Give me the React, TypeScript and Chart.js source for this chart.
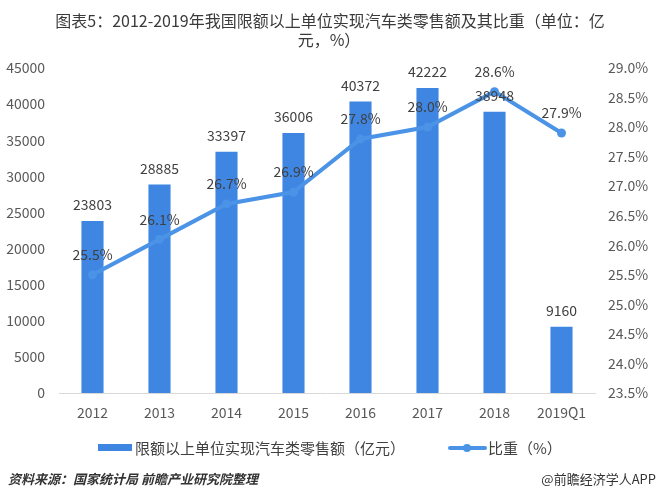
import React, { useEffect, useRef } from "react";
import { Chart, registerables } from "chart.js";

Chart.register(...registerables);

const categories = ["2012", "2013", "2014", "2015", "2016", "2017", "2018", "2019Q1"];
const salesValues = [23803, 28885, 33397, 36006, 40372, 42222, 38948, 9160];
const shareValues = [25.5, 26.1, 26.7, 26.9, 27.8, 28.0, 28.6, 27.9];
const leftAxis = { min: 0, max: 45000, step: 5000 };
const rightAxis = { min: 23.5, max: 29.0, step: 0.5 };
const titleLines = ["图表5：2012-2019年我国限额以上单位实现汽车类零售额及其比重（单位：亿", "元，%）"];
const barLegend = "限额以上单位实现汽车类零售额（亿元）";
const lineLegend = "比重（%）";
const sourceText = "资料来源：国家统计局 前瞻产业研究院整理";
const brandText = "@前瞻经济学人APP";

const FONT = '"Noto Sans CJK SC", "Noto Sans", sans-serif';
const BAR_COLOR = "#3f86e2";
const LINE_COLOR = "#4a93e6";
const TEXT = "#404040";
const TICK = "#595959";

const decorPlugin = {
  id: "decor",
  afterDatasetsDraw(chart: any) {
    const ctx = chart.ctx;
    ctx.save();
    const barMeta = chart.getDatasetMeta(0);
    ctx.font = `14px ${FONT}`;
    ctx.fillStyle = TEXT;
    ctx.textAlign = "center";
    ctx.textBaseline = "middle";
    barMeta.data.forEach((el: any, i: number) => {
      ctx.fillText(String(salesValues[i]), el.x, el.y - 16);
    });
    const lineMeta = chart.getDatasetMeta(1);
    lineMeta.data.forEach((el: any, i: number) => {
      ctx.fillText(shareValues[i].toFixed(1) + "%", el.x, el.y - 20);
    });
    ctx.restore();
  },
  afterDraw(chart: any) {
    const ctx = chart.ctx;
    const W = chart.width;
    ctx.save();
    ctx.font = `16px ${FONT}`;
    ctx.fillStyle = "#3a3a3a";
    ctx.textAlign = "center";
    ctx.textBaseline = "middle";
    ctx.fillText(titleLines[0], W / 2 + 1, 21);
    ctx.fillText(titleLines[1], W / 2, 40);

    const ly = 448;
    ctx.fillStyle = BAR_COLOR;
    ctx.fillRect(98, ly - 4, 34, 7);
    ctx.font = `15px ${FONT}`;
    ctx.fillStyle = TEXT;
    ctx.textAlign = "left";
    ctx.fillText(barLegend, 135, ly);
    ctx.strokeStyle = LINE_COLOR;
    ctx.lineWidth = 4;
    ctx.lineCap = "round";
    ctx.beginPath();
    ctx.moveTo(450, ly);
    ctx.lineTo(485, ly);
    ctx.stroke();
    ctx.fillStyle = LINE_COLOR;
    ctx.beginPath();
    ctx.arc(467, ly, 4, 0, Math.PI * 2);
    ctx.fill();
    ctx.fillStyle = TEXT;
    ctx.fillText(lineLegend, 488, ly);

    ctx.font = `italic bold 13px ${FONT}`;
    ctx.fillStyle = "#333333";
    ctx.textAlign = "left";
    ctx.fillText(sourceText, 8, 479);
    ctx.font = `13px ${FONT}`;
    ctx.textAlign = "right";
    ctx.fillText(brandText, 656, 479);
    ctx.restore();
  },
};

export default function App() {
  const ref = useRef<HTMLCanvasElement | null>(null);
  useEffect(() => {
    if (!ref.current) return;
    const chart = new Chart(ref.current, {
      type: "bar",
      data: {
        labels: categories,
        datasets: [
          {
            type: "bar",
            label: barLegend,
            data: salesValues,
            backgroundColor: BAR_COLOR,
            yAxisID: "y",
            barPercentage: 0.33,
            categoryPercentage: 1,
            order: 2,
          },
          {
            type: "line",
            label: lineLegend,
            data: shareValues,
            borderColor: LINE_COLOR,
            backgroundColor: LINE_COLOR,
            borderWidth: 4,
            pointRadius: 4.5,
            pointBackgroundColor: LINE_COLOR,
            pointBorderWidth: 0,
            yAxisID: "y1",
            tension: 0,
            order: 1,
          } as any,
        ],
      },
      options: {
        responsive: false,
        animation: false,
        layout: { padding: { top: 68, left: 0, right: 0, bottom: 0 } },
        plugins: {
          legend: { display: false },
          title: { display: false },
          tooltip: { enabled: false },
        },
        scales: {
          x: {
            grid: { display: false, drawTicks: false },
            border: { display: true, color: "#d9d9d9", width: 1 },
            ticks: { color: TICK, font: { family: FONT, size: 14 }, padding: 11 },
            afterFit: (s: any) => {
              s.height = 106;
            },
          },
          y: {
            position: "left",
            min: leftAxis.min,
            max: leftAxis.max,
            grid: { display: false, drawTicks: false },
            border: { display: false },
            ticks: {
              stepSize: leftAxis.step,
              color: TICK,
              font: { family: FONT, size: 14 },
              padding: 14,
              callback: (v: any) => String(v),
            },
            afterFit: (s: any) => {
              s.width = 59;
            },
          },
          y1: {
            position: "right",
            min: rightAxis.min,
            max: rightAxis.max,
            grid: { display: false, drawTicks: false },
            border: { display: false },
            ticks: {
              stepSize: rightAxis.step,
              color: TICK,
              font: { family: FONT, size: 14 },
              padding: 13,
              callback: (v: any) => Number(v).toFixed(1) + "%",
            },
            afterFit: (s: any) => {
              s.width = 63;
            },
          },
        },
      },
      plugins: [decorPlugin],
    });
    return () => chart.destroy();
  }, []);
  return (
    <canvas
      ref={ref}
      width={658}
      height={499}
      style={{ position: "absolute", left: 0, top: 0, width: 658, height: 499 }}
    />
  );
}
